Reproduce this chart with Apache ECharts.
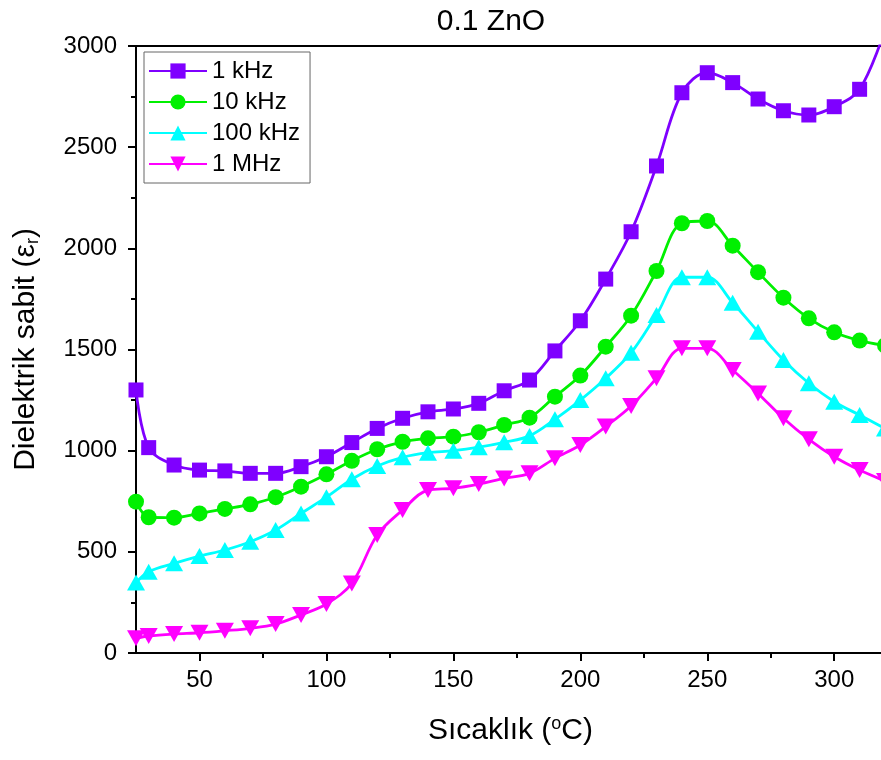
<!DOCTYPE html>
<html>
<head>
<meta charset="utf-8">
<script src="https://cdn.jsdelivr.net/npm/echarts@6/dist/echarts.min.js"></script>
<style>
  html, body { margin: 0; padding: 0; background: #fff; }
  #chart { width: 881px; height: 760px; }
</style>
</head>
<body>
<div id="chart"></div>
<script>
// Temperature (°C)
const temps = [25, 30, 40, 50, 60, 70, 80, 90, 100, 110, 120, 130, 140, 150, 160, 170,
  180, 190, 200, 210, 220, 230, 240, 250, 260, 270, 280, 290, 300, 310, 320];

// Dielectric constant at each frequency
const eps1kHz = [1300, 1015, 929, 904, 900, 888, 888, 921, 970, 1040, 1110, 1160, 1192, 1206, 1234, 1296,
  1349, 1493, 1642, 1848, 2082, 2407, 2769, 2868, 2819, 2738, 2680, 2659, 2700, 2786, 3080];
const eps10kHz = [748, 671, 669, 690, 712, 735, 770, 822, 883, 950, 1007, 1044, 1061, 1069, 1091, 1127,
  1163, 1267, 1371, 1514, 1667, 1888, 2124, 2135, 2013, 1882, 1756, 1654, 1585, 1544, 1520];
const eps100kHz = [348, 402, 443, 479, 509, 550, 608, 690, 770, 859, 924, 967, 990, 1000, 1017, 1041,
  1073, 1155, 1250, 1358, 1484, 1671, 1857, 1857, 1731, 1588, 1448, 1333, 1242, 1176, 1110];
const eps1MHz = [73, 84, 94, 100, 110, 122, 143, 188, 242, 344, 583, 707, 805, 814, 835, 863,
  888, 962, 1028, 1119, 1221, 1358, 1506, 1506, 1399, 1283, 1160, 1056, 970, 904, 850];

const seriesNames = ['1 kHz', '10 kHz', '100 kHz', '1 MHz'];
const xMajorTicks = [50, 100, 150, 200, 250, 300];
const xMinorTicks = [75, 125, 175, 225, 275];

const FONT = "'Liberation Sans', Arial, sans-serif";

function pairs(ys) { return temps.map((t, i) => [t, ys[i]]); }

function makeSeries(name, ys, color, symbol, size, rotate) {
  return {
    name: name,
    type: 'line',
    xAxisIndex: 0,
    data: pairs(ys),
    smooth: 0.35,
    symbol: symbol,
    symbolSize: size,
    symbolRotate: rotate || 0,
    showAllSymbol: true,
    clip: true,
    lineStyle: { color: color, width: 2.8 },
    itemStyle: { color: color },
    emphasis: { disabled: true },
    z: 3
  };
}

const chart = echarts.init(document.getElementById('chart'), null, { renderer: 'canvas' });

chart.setOption({
  animation: false,
  backgroundColor: '#fff',
  textStyle: { fontFamily: FONT },
  title: {
    text: '0.1 ZnO',
    left: 486,
    textAlign: 'center',
    top: 2,
    textStyle: { fontFamily: FONT, fontSize: 30, fontWeight: 'normal', color: '#000' }
  },
  grid: {
    left: 136, top: 46, width: 749, height: 607,
    containLabel: false,
    outerBoundsMode: 'none',
    show: true,
    borderColor: '#000',
    borderWidth: 2,
    backgroundColor: 'transparent'
  },
  legend: {
    orient: 'vertical',
    left: 144,
    top: 52,
    data: seriesNames,
    itemWidth: 58,
    itemHeight: 19,
    itemGap: 7,
    padding: [7, 10, 7, 4],
    borderColor: '#666',
    borderWidth: 1,
    backgroundColor: '#fff',
    textStyle: { fontFamily: FONT, fontSize: 24, color: '#000', lineHeight: 24 },
    selectedMode: false
  },
  xAxis: [
    {
      type: 'value',
      position: 'bottom',
      min: 25, max: 320,
      name: '{t|Sıcaklık (}{s|o}{t|C)}',
      nameLocation: 'middle',
      nameGap: 62,
      nameTextStyle: {
        rich: {
          t: { fontFamily: FONT, fontSize: 30, color: '#000', lineHeight: 32 },
          s: { fontFamily: FONT, fontSize: 18, color: '#000', verticalAlign: 'top', lineHeight: 14 }
        }
      },
      axisLine: { show: true, onZero: false, lineStyle: { color: '#000', width: 2 } },
      axisTick: { show: true, inside: false, length: 8, lineStyle: { color: '#000', width: 2 }, customValues: xMajorTicks },
      axisLabel: { show: true, margin: 15, fontFamily: FONT, fontSize: 24, color: '#000', customValues: xMajorTicks },
      splitLine: { show: false }
    },
    {
      type: 'value',
      position: 'bottom',
      offset: 0,
      min: 25, max: 320,
      axisLine: { show: false },
      axisTick: { show: true, inside: false, length: 5, lineStyle: { color: '#000', width: 2 }, customValues: xMinorTicks },
      axisLabel: { show: false, customValues: xMinorTicks },
      splitLine: { show: false }
    }
  ],
  yAxis: {
    type: 'value',
    min: 0, max: 3000, interval: 500,
    name: '{t|Dielektrik sabit (ε}{s|r}{t|)}',
    nameLocation: 'middle',
    nameGap: 94,
    nameRotate: 90,
    nameTextStyle: {
      rich: {
        t: { fontFamily: FONT, fontSize: 30, color: '#000', lineHeight: 32 },
        s: { fontFamily: FONT, fontSize: 18, color: '#000', verticalAlign: 'bottom', lineHeight: 14 }
      }
    },
    axisLine: { show: true, onZero: false, lineStyle: { color: '#000', width: 2 } },
    axisTick: { show: true, inside: false, length: 8, lineStyle: { color: '#000', width: 2 } },
    minorTick: { show: true, splitNumber: 2, length: 5, lineStyle: { color: '#000', width: 2 } },
    axisLabel: { show: true, margin: 19, fontFamily: FONT, fontSize: 24, color: '#000',
      formatter: function (v) { return String(v); } },
    splitLine: { show: false },
    minorSplitLine: { show: false }
  },
  series: [
    makeSeries(seriesNames[0], eps1kHz, '#7F00FF', 'rect', 15),
    makeSeries(seriesNames[1], eps10kHz, '#00F000', 'circle', 16),
    makeSeries(seriesNames[2], eps100kHz, '#00FFFF', 'triangle', [18, 16]),
    makeSeries(seriesNames[3], eps1MHz, '#FF00FF', 'triangle', [18, 16], 180)
  ]
});
</script>
</body>
</html>
